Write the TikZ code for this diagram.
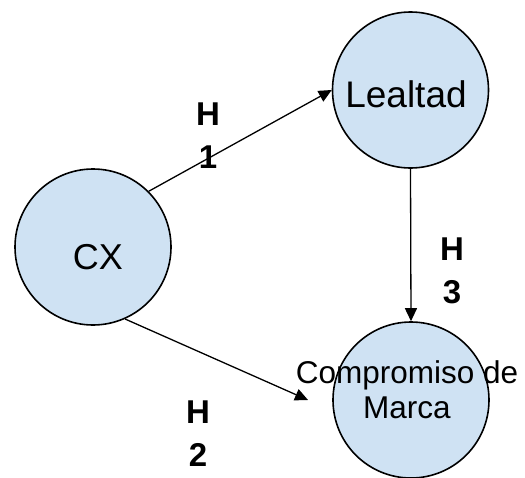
\documentclass[tikz,border=0pt]{standalone}
\usepackage{fontspec}
\setmainfont{Liberation Sans}
\usetikzlibrary{arrows.meta}
\definecolor{cfill}{HTML}{CFE2F3}
\begin{document}
\begin{tikzpicture}[x=1pt,y=-1pt,
  circ/.style={circle,draw=black,line width=1.6pt,fill=cfill,minimum size=156pt,inner sep=0pt},
  conn/.style={line width=1.3pt,-{Triangle[length=13pt,width=12pt]}},
  hlab/.style={font=\fontsize{33}{43}\selectfont\bfseries,align=center,anchor=base,inner sep=0pt},
  ntext/.style={anchor=base,inner sep=0pt}]
\useasboundingbox (0,0) rectangle (525,477);
\node[circ] (cx) at (93,247) {};
\node[circ] (le) at (410.5,90) {};
\node[circ] (cm) at (411,400) {};
\node[ntext,font=\fontsize{36}{40}\selectfont] (tcx) at (98,269) {CX};
\node[ntext,font=\fontsize{37}{40}\selectfont] (tle) at (406,107) {Lealtad};
\node[ntext,font=\fontsize{31.5}{35}\selectfont,align=center] (tcm) at (407,418) {Compromiso de\\Marca};
\coordinate (h2end) at (308,400);
\draw[conn] (cx.45) -- (le.west);
\draw[conn] (cx.-66.8) -- (h2end);
\draw[conn] (le.south) -- (cm.north);
\node[hlab] (h1) at (208,168) {H\\1};
\node[hlab] (h2) at (198,466) {H\\2};
\node[hlab] (h3) at (452,303) {H\\3};
\end{tikzpicture}
\end{document}
